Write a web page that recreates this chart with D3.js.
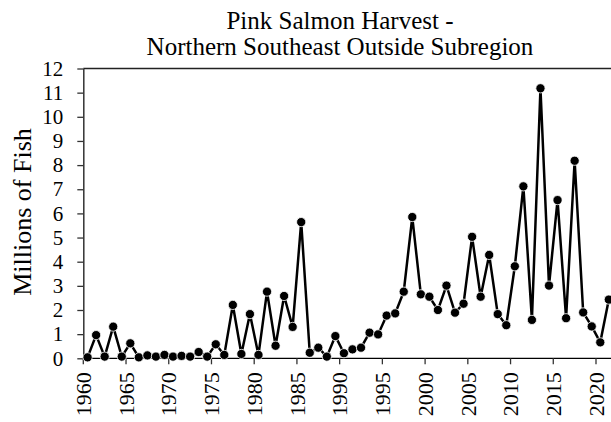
<!DOCTYPE html>
<html>
<head>
<meta charset="utf-8">
<script src="https://cdn.jsdelivr.net/npm/d3@7"></script>
<style>
  body { margin: 0; background: #fff; }
</style>
</head>
<body>
<div class="chart"></div>
<script>
// years and harvest (millions of fish)
var years = d3.range(1960, 2022);
var harvest = [
  0.04, 0.96, 0.07, 1.31, 0.07, 0.62, 0.04, 0.12, 0.07, 0.14,
  0.07, 0.10, 0.07, 0.26, 0.07, 0.58, 0.14, 2.21, 0.18, 1.83,
  0.14, 2.76, 0.52, 2.58, 1.30, 5.64, 0.23, 0.44, 0.07, 0.92,
  0.21, 0.37, 0.44, 1.06, 0.99, 1.77, 1.86, 2.76, 5.85, 2.65,
  2.55, 2.00, 3.01, 1.89, 2.26, 5.03, 2.55, 4.28, 1.83, 1.37,
  3.81, 7.12, 1.59, 11.18, 3.01, 6.55, 1.66, 8.18, 1.90, 1.32,
  0.66, 2.43
];
var yTicks = d3.range(0, 13);
var xTickYears = d3.range(1960, 2021, 5);
var titleLines = ["Pink Salmon Harvest -", "Northern Southeast Outside Subregion"];

var data = years.map(function (y, i) { return {year: y, value: harvest[i]}; });

var serif = "Liberation Serif, Times New Roman, serif";

//Width and height
var width = 611, height = 422;
var margin = {top: 68.5, left: 83.3, bottom: 63.7};
var plotH = height - margin.top - margin.bottom;
var step = 8.545;

var svg = d3.select("div.chart")
    .append("svg")
    .attr("width", width)
    .attr("height", height);

// band scale, ticks sit on band edges, points on band centres
var x = d3.scaleBand()
    .domain(years)
    .range([margin.left, margin.left + step * years.length])
    .paddingInner(0).paddingOuter(0);

var y = d3.scaleLinear()
    .domain([0, 12])
    .range([margin.top + plotH, margin.top]);

// title
svg.append("g").selectAll("text")
    .data(titleLines)
    .enter().append("text")
    .attr("x", 340)
    .attr("y", function (d, i) { return 29 + i * 26; })
    .attr("text-anchor", "middle")
    .attr("font-family", serif)
    .attr("font-size", 25)
    .text(function (d) { return d; });

// top border
svg.append("line")
    .attr("x1", margin.left).attr("x2", width)
    .attr("y1", y(12)).attr("y2", y(12))
    .attr("stroke", "#222").attr("stroke-width", 1.3);

// y axis
var yAxis = svg.append("g")
    .attr("transform", "translate(" + margin.left + ",0)")
    .call(d3.axisLeft(y).tickValues(yTicks).tickSize(6).tickSizeOuter(0).tickPadding(14))
    .attr("font-family", serif)
    .attr("font-size", 21);
yAxis.select(".domain").attr("stroke", "#333").attr("stroke-width", 1.5);
yAxis.selectAll(".tick line").attr("stroke", "#333").attr("stroke-width", 1.3);
yAxis.selectAll("text").attr("fill", "#000");

// x axis
var xAxis = svg.append("g")
    .attr("transform", "translate(0," + y(0) + ")")
    .attr("font-family", serif)
    .attr("font-size", 22);
xAxis.append("line")
    .attr("x1", margin.left).attr("x2", width)
    .attr("stroke", "#000").attr("stroke-width", 1.3);
var xt = xAxis.selectAll("g.xtick")
    .data(xTickYears)
    .enter().append("g")
    .attr("class", "xtick")
    .attr("transform", function (d) { return "translate(" + x(d) + ",0)"; });
xt.append("line")
    .attr("y2", 6)
    .attr("stroke", "#333").attr("stroke-width", 1.3);
xt.append("text")
    .attr("transform", "rotate(-90)")
    .attr("x", -14)
    .attr("dy", "0.35em")
    .attr("text-anchor", "end")
    .text(function (d) { return d; });

// y axis title
svg.append("text")
    .attr("transform", "translate(31," + 212 + ") rotate(-90)")
    .attr("text-anchor", "middle")
    .attr("font-family", serif)
    .attr("font-size", 26)
    .text("Millions of Fish");

// series line
var line = d3.line()
    .x(function (d) { return x(d.year) + x.bandwidth() / 2; })
    .y(function (d) { return y(d.value); });

svg.append("path")
    .datum(data)
    .attr("d", line)
    .attr("fill", "none")
    .attr("stroke", "#000")
    .attr("stroke-width", 2.5)
    .attr("stroke-linejoin", "miter");

svg.selectAll("circle.pt")
    .data(data)
    .enter().append("circle")
    .attr("class", "pt")
    .attr("cx", function (d) { return x(d.year) + x.bandwidth() / 2; })
    .attr("cy", function (d) { return y(d.value); })
    .attr("r", 4.6)
    .attr("fill", "#000")
    .attr("stroke", "#fff")
    .attr("stroke-width", 0.8);
</script>
</body>
</html>
